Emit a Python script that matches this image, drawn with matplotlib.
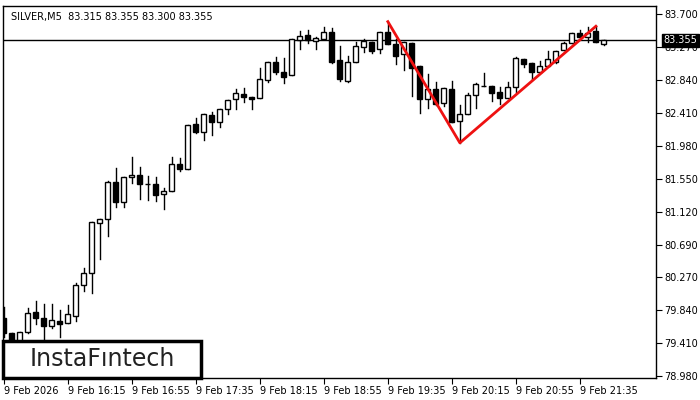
import numpy as np
import matplotlib.pyplot as plt
from matplotlib.patches import Rectangle

# =====================
# Dados (SILVER, M5)
# =====================
opens = [79.74, 79.54, 79.42, 79.55, 79.81, 79.74, 79.63, 79.70, 79.67, 79.76,
         80.17, 80.32, 80.97, 81.03, 81.51, 81.25, 81.57, 81.60, 81.48, 81.48,
         81.35, 81.39, 81.74, 81.68, 82.27, 82.16, 82.38, 82.29, 82.46, 82.59,
         82.66, 82.62, 82.61, 82.84, 83.08, 82.94, 82.91, 83.36, 83.43, 83.35,
         83.38, 83.47, 83.10, 82.83, 83.08, 83.27, 83.34, 83.24, 83.47, 83.31,
         83.18, 83.32, 83.02, 82.59, 82.72, 82.54, 82.72, 82.30, 82.40, 82.64,
         82.76, 82.76, 82.68, 82.61, 82.75, 83.11, 83.06, 82.94, 83.02, 83.08,
         83.23, 83.32, 83.45, 83.40, 83.48, 83.315]
highs = [79.88, 79.54, 79.55, 79.87, 79.96, 79.92, 79.92, 79.84, 79.91, 80.19,
         80.39, 80.99, 81.03, 81.52, 81.69, 81.57, 81.84, 81.71, 81.59, 81.57,
         81.43, 81.84, 81.82, 82.25, 82.34, 82.40, 82.42, 82.46, 82.58, 82.72,
         82.74, 82.62, 83.00, 83.08, 83.14, 83.13, 83.38, 83.48, 83.49, 83.40,
         83.53, 83.52, 83.28, 83.15, 83.34, 83.38, 83.34, 83.47, 83.60, 83.38,
         83.34, 83.32, 83.02, 82.92, 82.81, 82.74, 82.83, 82.51, 82.67, 82.80,
         82.93, 82.76, 82.75, 82.81, 83.14, 83.11, 83.06, 83.09, 83.22, 83.22,
         83.34, 83.45, 83.49, 83.53, 83.54, 83.355]
lows = [79.49, 79.38, 79.42, 79.54, 79.66, 79.46, 79.61, 79.49, 79.67, 79.70,
        80.09, 80.06, 80.51, 80.81, 81.18, 81.18, 81.50, 81.29, 81.27, 81.26,
        81.16, 81.39, 81.65, 81.68, 82.15, 82.06, 82.12, 82.23, 82.40, 82.46,
        82.55, 82.46, 82.61, 82.81, 82.92, 82.80, 82.91, 83.24, 83.32, 83.24,
        83.38, 83.06, 82.83, 82.81, 83.08, 83.21, 83.19, 83.19, 83.31, 83.05,
        82.97, 82.63, 82.41, 82.47, 82.51, 82.50, 82.29, 82.02, 82.40, 82.47,
        82.76, 82.57, 82.53, 82.61, 82.68, 83.01, 82.84, 82.94, 83.02, 83.06,
        83.23, 83.32, 83.40, 83.34, 83.34, 83.300]
closes = [79.54, 79.42, 79.55, 79.80, 79.74, 79.63, 79.71, 79.66, 79.79, 80.17,
          80.32, 80.99, 81.03, 81.51, 81.25, 81.57, 81.60, 81.48, 81.48, 81.34,
          81.39, 81.74, 81.68, 82.25, 82.16, 82.40, 82.29, 82.46, 82.58, 82.67,
          82.62, 82.59, 82.85, 83.08, 82.94, 82.88, 83.38, 83.41, 83.36, 83.39,
          83.47, 83.08, 82.85, 83.08, 83.28, 83.35, 83.22, 83.47, 83.31, 83.15,
          83.34, 83.00, 82.59, 82.72, 82.53, 82.74, 82.29, 82.40, 82.64, 82.79,
          82.76, 82.67, 82.61, 82.75, 83.13, 83.05, 82.94, 83.02, 83.11, 83.22,
          83.32, 83.45, 83.40, 83.45, 83.34, 83.355]

last_price = 83.355
header = "SILVER,M5  83.315 83.355 83.300 83.355"

# padrão (linhas vermelhas): índice da vela, preço
pattern_idx = [48, 57, 74]
pattern_px = [83.60, 82.02, 83.54]

yticks = [83.700, 83.270, 82.840, 82.410, 81.980, 81.550, 81.120,
          80.690, 80.270, 79.840, 79.410, 78.980]
xtick_idx = [0, 8, 16, 24, 32, 40, 48, 56, 64, 72]
xtick_lbl = ["9 Feb 2026", "9 Feb 16:15", "9 Feb 16:55", "9 Feb 17:35",
             "9 Feb 18:15", "9 Feb 18:55", "9 Feb 19:35", "9 Feb 20:15",
             "9 Feb 20:55", "9 Feb 21:35"]

# =====================
# Gráfico
# =====================
fig = plt.figure(figsize=(7, 4), dpi=100)
ax = fig.add_axes([0.004, 0.055, 0.933, 0.93])
ax.set_xlim(-0.125, 81.5)
ax.set_ylim(78.954, 83.804)

w = 0.6
for i in range(len(opens)):
    o, h, l, c = opens[i], highs[i], lows[i], closes[i]
    ax.plot([i, i], [l, h], color='black', lw=1, zorder=2)
    bottom = min(o, c)
    height = max(abs(c - o), 0.004)
    face = 'white' if c >= o else 'black'
    ax.add_patch(Rectangle((i - w / 2, bottom), w, height, facecolor=face,
                           edgecolor='black', lw=1, zorder=3))

ax.axhline(last_price, color='black', lw=1, zorder=1)
ax.plot(pattern_idx, pattern_px, color='#ee1111', lw=2, zorder=4)

ax.yaxis.tick_right()
ax.set_yticks(yticks)
ax.set_yticklabels([f"{v:.3f}" for v in yticks], fontsize=7)
ax.set_xticks(xtick_idx)
ax.set_xticklabels(xtick_lbl, fontsize=7, ha='left')
ax.tick_params(axis='x', length=4, pad=2)
ax.tick_params(axis='y', length=4, pad=2)
for s in ax.spines.values():
    s.set_linewidth(1)

ax.text(0.012, 0.985, header, transform=ax.transAxes, fontsize=7,
        va='top', ha='left')

# etiqueta do preço atual
ax.text(1.012, last_price, f"{last_price:.3f}", transform=ax.get_yaxis_transform(),
        fontsize=7, color='white', va='center', ha='left', zorder=10,
        bbox=dict(boxstyle='square,pad=0.15', facecolor='black', edgecolor='black'))

# logotipo
fig.patches.append(Rectangle((3 / 700, 22 / 400), 198 / 700, 37 / 400,
                             transform=fig.transFigure, facecolor='white',
                             edgecolor='black', lw=2.5, zorder=20))
fig.text(102 / 700, 40.5 / 400, "InstaFıntech", fontsize=17, color='#222222',
         ha='center', va='center', zorder=21)

fig.savefig("out.png", dpi=100)
